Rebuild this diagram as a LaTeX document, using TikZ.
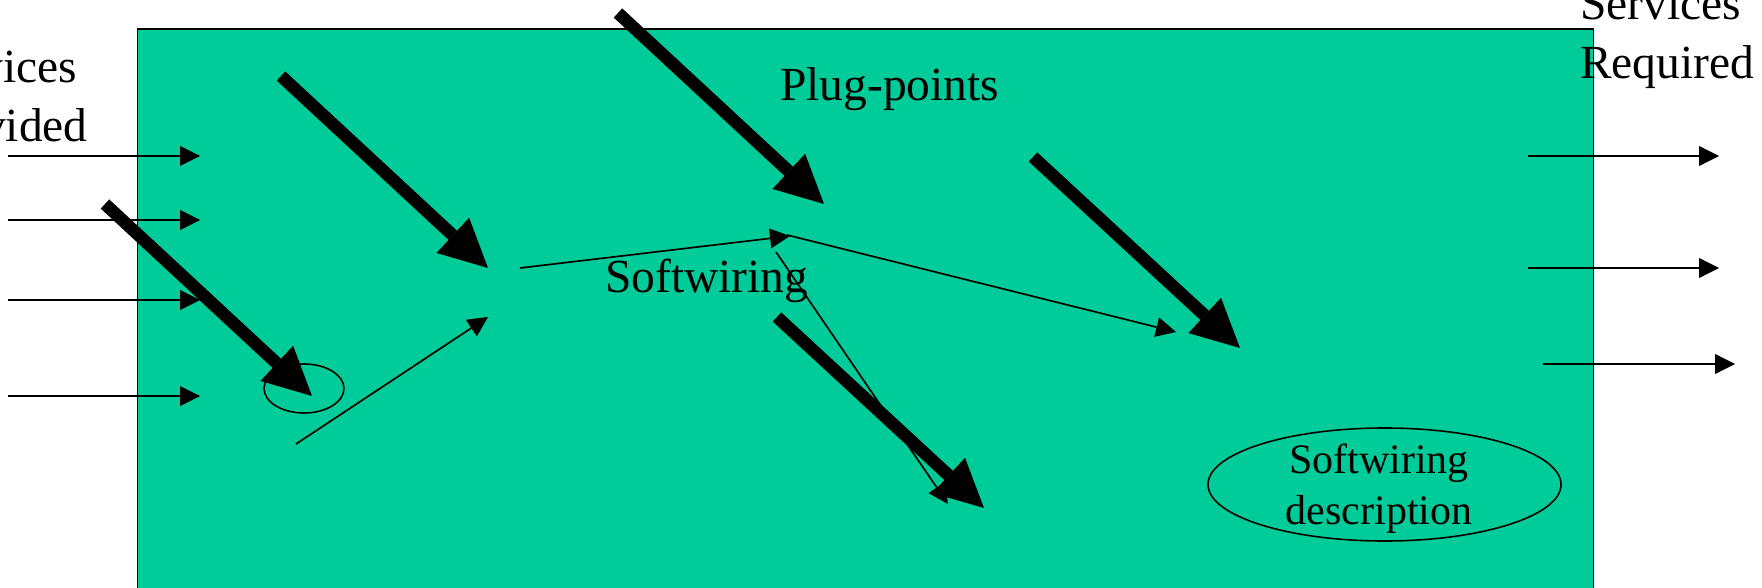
\documentclass[tikz,border=0pt]{standalone}
\usepackage{fontspec}
\setmainfont{Liberation Serif}
\usetikzlibrary{arrows.meta,shapes.geometric}
\definecolor{boxgreen}{RGB}{0,204,153}

\begin{document}
\begin{tikzpicture}[x=1pt,y=-1pt,
  thinarrow/.style={line width=1.7pt,
    -{Triangle[length=20pt,width=20pt,line width=0pt]}},
  bigarrow/.style={line width=12.5pt,
    -{Triangle[length=48pt,width=48pt,line width=0pt]}},
  lbl/.style={font=\fontsize{47.5}{59}\selectfont, inner sep=0pt, align=left},
  smalllbl/.style={font=\fontsize{42}{51}\selectfont, inner sep=0pt, align=center},
]
\useasboundingbox (0,0) rectangle (1762,588);

% component body
\node[draw, fill=boxgreen, line width=1.3pt, inner sep=0pt,
      minimum width=1456pt, minimum height=559pt, anchor=north west]
      (box) at (136.5,28.5) {};

% plug-point marker and description
\node[draw, ellipse, line width=1.6pt, inner sep=0pt,
      minimum width=80pt, minimum height=49pt] (plug) at (304,388.5) {};
\node[draw, ellipse, line width=1.6pt, inner sep=0pt,
      minimum width=353pt, minimum height=113pt] (descshape) at (1384.5,484.5) {};
\node[smalllbl] (desctext) at (1379,489) {Softwiring\\description};

% labels (base anchor sits on the last line)
\node[lbl, anchor=base west] (provided) at (-84,142) {Services\\Provided};
\node[lbl, anchor=base west] (required) at (1580,79) {Services\\Required};
\node[lbl, anchor=base west] (plugpoints) at (780,101) {Plug-points};
\node[lbl, anchor=base west] (softwiring) at (605,292) {Softwiring};

% provided services entering the component
\foreach \y [count=\i] in {156,220,300,396}{
  \coordinate (in\i a) at (8,\y);
  \coordinate (in\i b) at (200,\y);
  \draw[thinarrow] (in\i a) -- (in\i b);
}
% required services leaving the component
\coordinate (out1a) at (1528,156); \coordinate (out1b) at (1719,156);
\coordinate (out2a) at (1528,268); \coordinate (out2b) at (1719,268);
\coordinate (out3a) at (1543,364); \coordinate (out3b) at (1735,364);
\foreach \i in {1,2,3}{\draw[thinarrow] (out\i a) -- (out\i b);}

% softwiring between plug-points
\coordinate (wa) at (296,444);  \coordinate (wb) at (488,317);
\coordinate (wc) at (520,268);  \coordinate (wd) at (790,236);
\coordinate (we) at (787,235);  \coordinate (wf) at (1176,332);
\coordinate (wg) at (776,252);  \coordinate (wh) at (948,504);
\draw[thinarrow] (wa) -- (wb);
\draw[thinarrow] (wc) -- (wd);
\draw[thinarrow] (we) -- (wf);
\draw[thinarrow] (wg) -- (wh);

% plug-points
\coordinate (p1a) at (105,204);  \coordinate (p1b) at (312,396);
\coordinate (p2a) at (281,76);   \coordinate (p2b) at (488,268);
\coordinate (p3a) at (618,13);   \coordinate (p3b) at (824,204);
\coordinate (p4a) at (1033,157); \coordinate (p4b) at (1240,348);
\coordinate (p5a) at (777,317);  \coordinate (p5b) at (984,508);
\foreach \i in {1,...,5}{\draw[bigarrow] (p\i a) -- (p\i b);}
\end{tikzpicture}
\end{document}
